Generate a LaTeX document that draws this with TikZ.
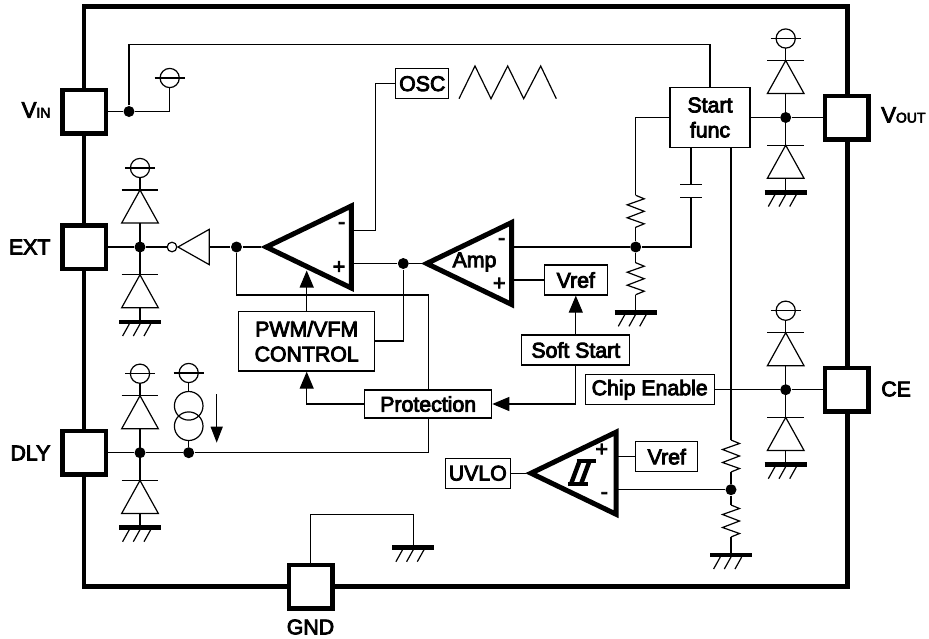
\documentclass[tikz,border=0pt]{standalone}
\usepackage{fontspec}
\setmainfont{Liberation Sans}[FakeBold=4]
\usepackage{tikz}
\usetikzlibrary{shapes,arrows,arrows.meta,positioning,fit}

\begin{document}
\begin{tikzpicture}[x=1pt, y=-1pt, node distance=70pt, line width=1.2pt, font=\fontsize{21.3}{25}\selectfont]
    \tikzstyle{pad} = [rectangle, draw, line width=4.5pt, fill=white, minimum size=43.5pt, inner sep=0pt]
    \tikzstyle{func} = [rectangle, draw, fill=white, align=center, minimum height=30pt, inner sep=0pt]
    \tikzstyle{dot} = [circle, fill=black, inner sep=0pt, minimum size=11pt]
    \tikzstyle{bubble} = [circle, draw, inner sep=0pt, minimum size=9.6pt]
    \tikzstyle{pin} = [inner sep=0pt]
    \tikzstyle{arrow} = [-{Triangle[length=17pt,width=14pt]}]
    \tikzstyle{flow} = [-{Triangle[length=16pt,width=12pt]}]
    \tikzset{
        vddsym/.pic={
            \draw (0,0) circle (9.6);
            \draw (-15,0) -- (15,0);
            \coordinate (-b) at (0,9.6);
        },
        gndsym/.pic={
            \draw [line width=4.5pt] (-21,0) -- (21,0);
            \foreach \dx in {-10.7,0,10.7}
                \draw (\dx,2) -- (\dx-6.7,14);
            \coordinate (-t) at (0,0);
        },
        diodesym/.pic={
            \draw (-18.3,0) -- (18.3,0);
            \draw (0,0) -- (18.3,33) -- (-18.3,33) -- cycle;
        },
        clampsym/.pic={
            \pic at (0,-79) {vddsym};
            \draw (0,-69.4) -- (0,-57);
            \pic at (0,-57) {diodesym};
            \draw (0,-24) -- (0,27.7);
            \pic at (0,27.7) {diodesym};
            \draw (0,60.7) -- (0,75);
            \pic at (0,75) {gndsym};
        },
        ressym/.pic={
            \draw (0,0) -- (8.5,3.5) -- (-8.5,9.5) -- (8.5,16) -- (-8.5,22.5) -- (8.5,28.5) -- (0,32);
            \coordinate (-t) at (0,0);
            \coordinate (-b) at (0,32);
        },
        ampsym/.pic={
            \draw [line width=5pt, miter limit=10] (-85,0) -- (0,-41) -- (0,41) -- cycle;
            \coordinate (-out) at (-90,0);
            \coordinate (-up) at (2.2,-16.5);
            \coordinate (-dn) at (2.2,16.5);
        },
        srcsym/.pic={
            \draw (0,-10.2) circle (14.3);
            \draw (0,10.2) circle (14.3);
            \coordinate (-t) at (0,-24.5);
            \coordinate (-b) at (0,24.5);
        }
    }
    \useasboundingbox (0,0) rectangle (929,638);

    % Chip outline
    \draw [line width=4.5pt] (84,6.7) rectangle (847.3,586.3);

    % Pads
    \node [pad] (vin) at (84,111.5) {};
    \node [pad, below of=vin, yshift=-65.5pt] (ext) {};
    \node [pad, below of=ext, yshift=-135.7pt] (dly) {};
    \node [pad] (gnd) at (310.5,586.7) {};
    \node [pad] (vout) at (846.7,117.5) {};
    \node [pad, below of=vout, yshift=-202.2pt] (ce) {};

    % Pad names
    \node [pin, anchor=east] (vinname) at (51,110) {\fontsize{22}{25}\selectfont V\fontsize{14}{25}\selectfont IN};
    \node [pin, anchor=east] (extname) at (51,247) {EXT};
    \node [pin, anchor=east] (dlyname) at (51,453) {DLY};
    \node [pin, anchor=west] (voutname) at (880.7,115) {\fontsize{22}{25}\selectfont V\fontsize{14}{25}\selectfont OUT};
    \node [pin, anchor=west] (cename) at (880.7,389) {CE};
    \node [pin] (gndname) at (310.5,627) {GND};

    % Function boxes
    \node [func, minimum width=53pt] (osc) at (422.3,83.7) {OSC};
    \node [func, minimum width=80pt, minimum height=60pt] (start) at (710,117.5) {Start\\func};
    \node [func, minimum width=63pt] (vref) at (575.8,280) {Vref};
    \node [func, below of=vref, minimum width=108pt] (soft) {Soft Start};
    \node [func, minimum width=136pt, minimum height=59.5pt] (pwm) at (306.7,341.3) {PWM/VFM\\CONTROL};
    \node [func, minimum width=127pt, minimum height=28pt] (prot) at (428.2,404) {Protection};
    \node [func, minimum width=129pt] (chip) at (649.7,389.7) {Chip Enable};
    \node [func, minimum width=65pt] (uvlo) at (477.8,473.2) {UVLO};
    \node [func, minimum width=62pt] (vrefb) at (666.8,456.7) {Vref};

    % Amplifiers
    \pic (pwmcmp) at (351.3,247) {ampsym};
    \pic (amp) at (511.7,263.5) {ampsym};
    \pic (uvcmp) at (616,473.2) {ampsym};
    \node [pin] (pwmminus) at (341.7,225.5) {-};
    \node [pin] (pwmplus) at (339,267.5) {+};
    \node [pin] (ampname) at (474.5,262) {Amp};
    \node [pin] (ampminus) at (501.7,241.5) {-};
    \node [pin] (ampplus) at (499.3,284) {+};
    \node [pin] (uvplus) at (601.7,450) {+};
    \node [pin] (uvminus) at (604.3,495.5) {-};
    \draw [line width=3.6pt] (568.3,484) -- (588.3,484) (576.7,460.7) -- (596,460.7);
    \draw [line width=4.4pt] (571,484) -- (579.7,460.7) (581,484) -- (589.7,460.7);

    % Inverter
    \node [bubble] (invin) at (172,247) {};
    \draw (178,247) -- (209.3,229.3) -- (209.3,264.7) -- cycle;
    \coordinate (invout) at (209.3,247);

    % Clamps
    \pic at (140,247) {clampsym};
    \pic at (140,452.7) {clampsym};
    \pic at (785.7,117.5) {clampsym};
    \pic at (785.7,389.7) {clampsym};

    % Dots
    \node [dot] (vindot) at (129,111.5) {};
    \node [dot] (extdot) at (140,247) {};
    \node [dot] (pwmdot) at (236.5,247) {};
    \node [dot] (plusdot) at (403.3,263.5) {};
    \node [dot] (fbdot) at (635.7,247) {};
    \node [dot] (voutdot) at (785.7,117.5) {};
    \node [dot] (cedot) at (785.7,389.7) {};
    \node [dot] (dlydot) at (140,452.7) {};
    \node [dot] (srcdot) at (188.7,452.7) {};
    \node [dot] (uvdot) at (731,489.7) {};

    % Supply, ground, resistors and source
    \pic (vinsup) at (169.7,78) {vddsym};
    \pic (srcsup) at (188.7,373) {vddsym};
    \pic (src) at (188.7,416) {srcsym};
    \pic (gndbar) at (413.3,547.7) {gndsym};
    \pic (fbbar) at (635.7,312.3) {gndsym};
    \pic (uvbar) at (731,555) {gndsym};
    \pic (rtop) at (635.7,195.3) {ressym};
    \pic (rbot) at (635.7,262.7) {ressym};
    \pic (rutop) at (731,440) {ressym};
    \pic (rubot) at (731,505) {ressym};

    % Coordinates of bends
    \coordinate (vinrail) at (129,44.5);
    \coordinate (protdown) at (428.2,452.7);
    \coordinate (gndrail) at (310.5,514.7);
    \coordinate (startcap) at (691,147.5);
    \coordinate (capup) at (691,184.7);
    \coordinate (capdn) at (691,197.7);
    \coordinate (capbend) at (691,247);
    \coordinate (startru) at (731,147.5);
    \coordinate (oscbend) at (375.3,83.7);
    \coordinate (pwmtop) at (306.7,270.5);
    \coordinate (flowa) at (216.7,394);
    \coordinate (flowb) at (216.7,442.7);
    \coordinate (fbbend) at (635.7,117.5);

    % Capacitor plates
    \draw (680,184.7) -- (702,184.7);
    \draw (680,197.7) -- (702,197.7);

    % Triangle wave
    \draw (459,98.7) -- (475,66) -- (491,98.7) -- (507.7,66) -- (523.7,98.7) -- (540.7,66) -- (556.3,98.7);

    % Arrows
    \draw (vin) -- (vindot);
    \draw (vindot) -- (vinsup-b |- vindot) -- (vinsup-b);
    \draw (vindot) -- (vinrail) -| (start);
    \draw (ext) -- (extdot);
    \draw (extdot) -- (invin);
    \draw (invout) -- (pwmdot);
    \draw (pwmdot) -- (pwmcmp-out);
    \draw (pwmdot) |- (428.2,295) -- (prot);
    \draw (pwmcmp-up) -| (oscbend) -- (osc);
    \draw (pwmcmp-dn) -- (plusdot);
    \draw (plusdot) -- (amp-out);
    \draw (pwm.east |- 0,341) -| (plusdot);
    \draw [arrow] (pwm) -- (pwmtop);
    \draw [arrow] (prot) -| (pwm);
    \draw [arrow] (soft) |- (prot);
    \draw [arrow] (soft) -- (vref);
    \draw (amp-up) -- (fbdot);
    \draw (amp-dn) -- (vref);
    \draw (fbdot) -- (capbend) -- (capdn);
    \draw (capup) -- (startcap);
    \draw (start) -- (fbbend) -- (rtop-t);
    \draw (rtop-b) -- (fbdot);
    \draw (fbdot) -- (rbot-t);
    \draw (rbot-b) -- (fbbar-t);
    \draw (start) -- (voutdot);
    \draw (voutdot) -- (vout);
    \draw (chip) -- (cedot);
    \draw (cedot) -- (ce);
    \draw (startru) -- (rutop-t);
    \draw (rutop-b) -- (uvdot);
    \draw (uvdot) -- (rubot-t);
    \draw (rubot-b) -- (uvbar-t);
    \draw (uvcmp-up) -- (vrefb);
    \draw (uvcmp-dn) -- (uvdot);
    \draw (uvlo) -- (uvcmp-out);
    \draw (dly) -- (dlydot);
    \draw (dlydot) -- (srcdot);
    \draw (srcdot) -- (protdown) -- (prot);
    \draw (srcsup-b) -- (src-t);
    \draw (src-b) -- (srcdot);
    \draw [flow] (flowa) -- (flowb);
    \draw (gnd) -- (gndrail) -| (gndbar-t);
\end{tikzpicture}
\end{document}
